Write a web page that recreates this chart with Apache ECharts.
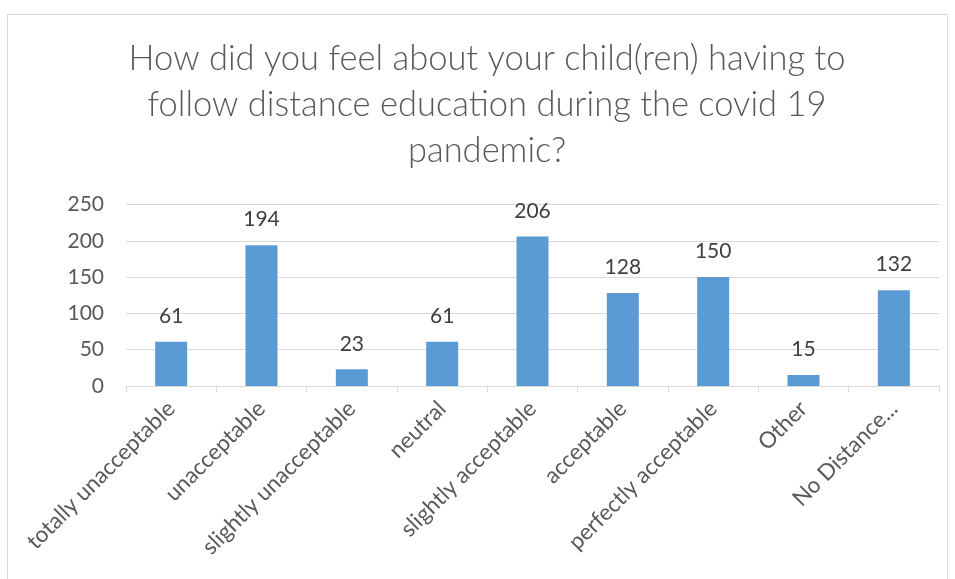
<!DOCTYPE html>
<html>
<head>
<meta charset="utf-8">
<script src="https://cdn.jsdelivr.net/npm/echarts@6/dist/echarts.min.js"></script>
<style>
  html, body { margin: 0; padding: 0; background: #fff; }
  #main { width: 955px; height: 579px; }
</style>
</head>
<body>
<div id="main"></div>
<script>
// categories and counts
const categories = ['totally unacceptable', 'unacceptable', 'slightly unacceptable', 'neutral',
  'slightly acceptable', 'acceptable', 'perfectly acceptable', 'Other', 'No Distance...'];
const counts = [61, 194, 23, 61, 206, 128, 150, 15, 132];
const yTicks = [0, 50, 100, 150, 200, 250];

const font = 'Lato, "Open Sans", sans-serif';
const chart = echarts.init(document.getElementById('main'));

chart.setOption({
  animation: false,
  backgroundColor: '#fff',
  graphic: [{
    type: 'rect',
    shape: { x: 7.5, y: 14.5, width: 940, height: 600 },
    style: { fill: 'none', stroke: '#d9d9d9', lineWidth: 1 },
    silent: true
  }],
  title: {
    text: 'How did you feel about your child(ren) having to\nfollow distance education during the covid 19\npandemic?',
    left: 487,
    textAlign: 'center',
    top: 36,
    padding: 0,
    textStyle: {
      fontFamily: font,
      fontSize: 34.5,
      fontWeight: 300,
      color: '#595959',
      lineHeight: 46
    }
  },
  grid: { left: 126, right: 16, top: 204.5, bottom: 193, containLabel: false },
  xAxis: {
    type: 'category',
    data: categories,
    axisLine: { lineStyle: { color: '#d9d9d9', width: 1 } },
    axisTick: { show: true, length: 6, lineStyle: { color: '#d9d9d9' } },
    axisLabel: {
      rotate: 45,
      interval: 0,
      margin: 19,
      fontFamily: font,
      fontSize: 22.5,
      color: '#595959'
    }
  },
  yAxis: {
    type: 'value',
    min: yTicks[0],
    max: yTicks[yTicks.length - 1],
    interval: 50,
    axisLine: { show: false },
    axisTick: { show: false },
    axisLabel: { margin: 22, fontFamily: font, fontSize: 21, color: '#595959' },
    splitLine: { lineStyle: { color: '#d9d9d9', width: 1 } }
  },
  series: [{
    type: 'bar',
    data: counts,
    barWidth: 32,
    itemStyle: { color: '#5b9bd5' },
    label: {
      show: true,
      position: 'top',
      distance: 15,
      fontFamily: font,
      fontSize: 21,
      color: '#404040'
    }
  }]
});
</script>
</body>
</html>
